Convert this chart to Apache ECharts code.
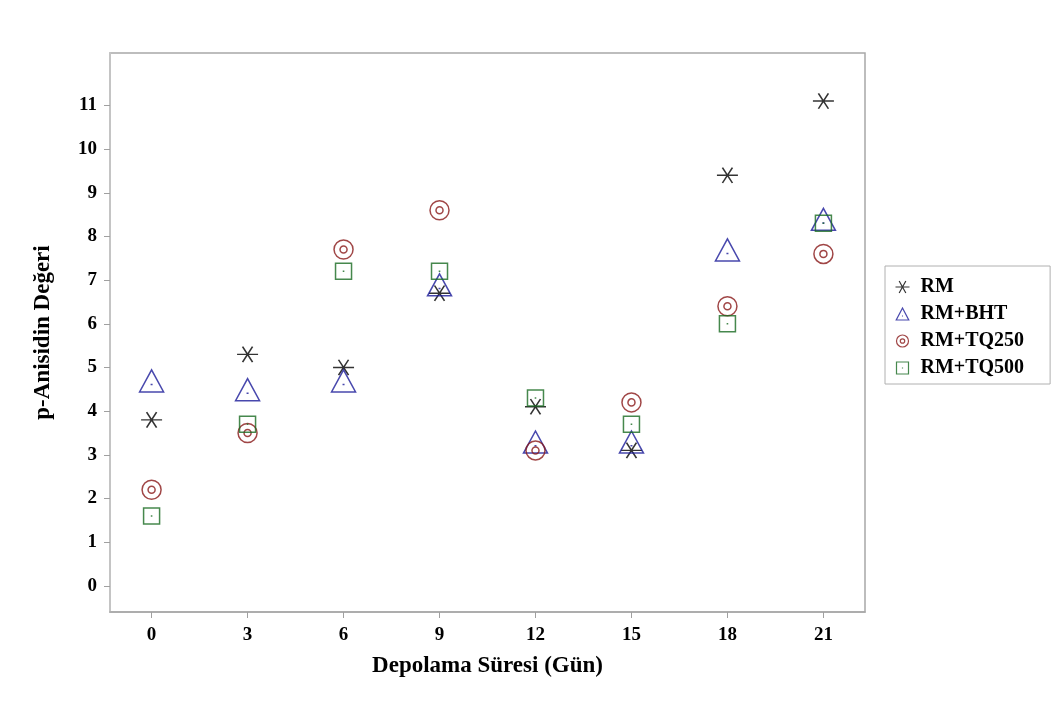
<!DOCTYPE html>
<html>
<head>
<meta charset="utf-8">
<script src="https://cdn.jsdelivr.net/npm/echarts@6/dist/echarts.min.js"></script>
<style>
  html, body { margin: 0; padding: 0; background: #fff; }
  #chart { width: 1059px; height: 707px; }
</style>
</head>
<body>
<div id="chart"></div>
<script>
// ---- data ----
const days = [0, 3, 6, 9, 12, 15, 18, 21];
const xTicks = [0, 3, 6, 9, 12, 15, 18, 21];
const yTicks = [0, 1, 2, 3, 4, 5, 6, 7, 8, 9, 10, 11];
const seriesNames = ['RM', 'RM+BHT', 'RM+TQ250', 'RM+TQ500'];
const rmValues      = [3.8, 5.3, 5.0, 6.7, 4.1, 3.1, 9.4, 11.1];
const rmBhtValues   = [4.6, 4.4, 4.6, 6.8, 3.2, 3.2, 7.6, 8.3];
const rmTq250Values = [2.2, 3.5, 7.7, 8.6, 3.1, 4.2, 6.4, 7.6];
const rmTq500Values = [1.6, 3.7, 7.2, 7.2, 4.3, 3.7, 6.0, 8.3];
const xTitle = 'Depolama Süresi (Gün)';
const yTitle = 'p-Anisidin Değeri';

// ---- marker shapes ----
const asteriskPath = 'path://M0 9 L21 9 M5.5 0 L15.5 18 M15.5 0 L5.5 18';
const trianglePath = 'path://M12 0 L24 23 L0 23 Z M11 15.3 L13 15.3';
const bullseyePath = 'path://M0 10 A10 10 0 1 1 20 10 A10 10 0 1 1 0 10 Z M6.3 10 A3.7 3.7 0 1 1 13.7 10 A3.7 3.7 0 1 1 6.3 10 Z';
const squarePath = 'path://M0 0 L16 0 L16 16 L0 16 Z M7.2 8 L8.8 8';

const colors = ['#000000', '#1a1a98', '#881818', '#186a20'];
const symbols = [asteriskPath, trianglePath, bullseyePath, squarePath];
const sizes = [[21, 18], [24, 23], [19, 19], [16, 16]];
const offsets = [[0, 0], [0, -4], [0, 0], [0, 0]];
const values = [rmValues, rmBhtValues, rmTq250Values, rmTq500Values];

const font = '"Liberation Serif", "Times New Roman", serif';

const series = seriesNames.map((name, i) => ({
  name: name,
  type: 'scatter',
  symbol: symbols[i],
  symbolSize: sizes[i],
  symbolOffset: offsets[i],
  symbolKeepAspect: true,
  itemStyle: { color: 'none', borderColor: colors[i], borderWidth: 1.5 },
  emphasis: { disabled: true },
  data: days.map((d, j) => [d, values[i][j]])
}));

const chart = echarts.init(document.getElementById('chart'), null, { renderer: 'canvas' });
chart.setOption({
  animation: false,
  backgroundColor: '#ffffff',
  grid: {
    left: 110, top: 53, right: 194, bottom: 95,
    show: true, borderColor: '#a8a8a8', borderWidth: 1.5, backgroundColor: '#ffffff'
  },
  xAxis: {
    type: 'value',
    min: -1.3, max: 22.3,
    name: xTitle,
    nameLocation: 'middle',
    nameGap: 43,
    nameMoveOverlap: false,
    nameTextStyle: { fontFamily: font, fontWeight: 'bold', fontSize: 23, color: '#000' },
    axisLine: { show: true, onZero: false, lineStyle: { color: '#a8a8a8', width: 1.5 } },
    axisTick: { show: true, inside: false, customValues: xTicks, length: 6, lineStyle: { color: '#a0a0a0', width: 1 } },
    axisLabel: { customValues: xTicks, margin: 14, fontFamily: font, fontWeight: 'bold', fontSize: 19, color: '#000' },
    splitLine: { show: false }
  },
  yAxis: {
    type: 'value',
    min: -0.6, max: 12.2,
    name: yTitle,
    nameLocation: 'middle',
    nameGap: 55,
    nameMoveOverlap: false,
    nameRotate: 90,
    nameTextStyle: { fontFamily: font, fontWeight: 'bold', fontSize: 23, color: '#000' },
    axisLine: { show: true, onZero: false, lineStyle: { color: '#c4c4c4', width: 2 } },
    axisTick: { show: true, inside: false, customValues: yTicks, length: 6, lineStyle: { color: '#a0a0a0', width: 1 } },
    axisLabel: { customValues: yTicks, margin: 13, fontFamily: font, fontWeight: 'bold', fontSize: 19, color: '#000' },
    splitLine: { show: false }
  },
  legend: {
    orient: 'vertical',
    left: 885, top: 266,
    padding: [11, 26, 6, 8],
    itemWidth: 26, itemHeight: 12,
    itemGap: 7,
    borderColor: '#b0b0b0', borderWidth: 1,
    backgroundColor: '#ffffff',
    selectedMode: false,
    textStyle: { fontFamily: font, fontWeight: 'bold', fontSize: 20, color: '#000', lineHeight: 20 },
    data: seriesNames.map((name, i) => ({
      name: name,
      icon: symbols[i],
      itemStyle: { color: 'none', borderColor: colors[i], borderWidth: 1.2 }
    }))
  },
  series: series
});
</script>
</body>
</html>
